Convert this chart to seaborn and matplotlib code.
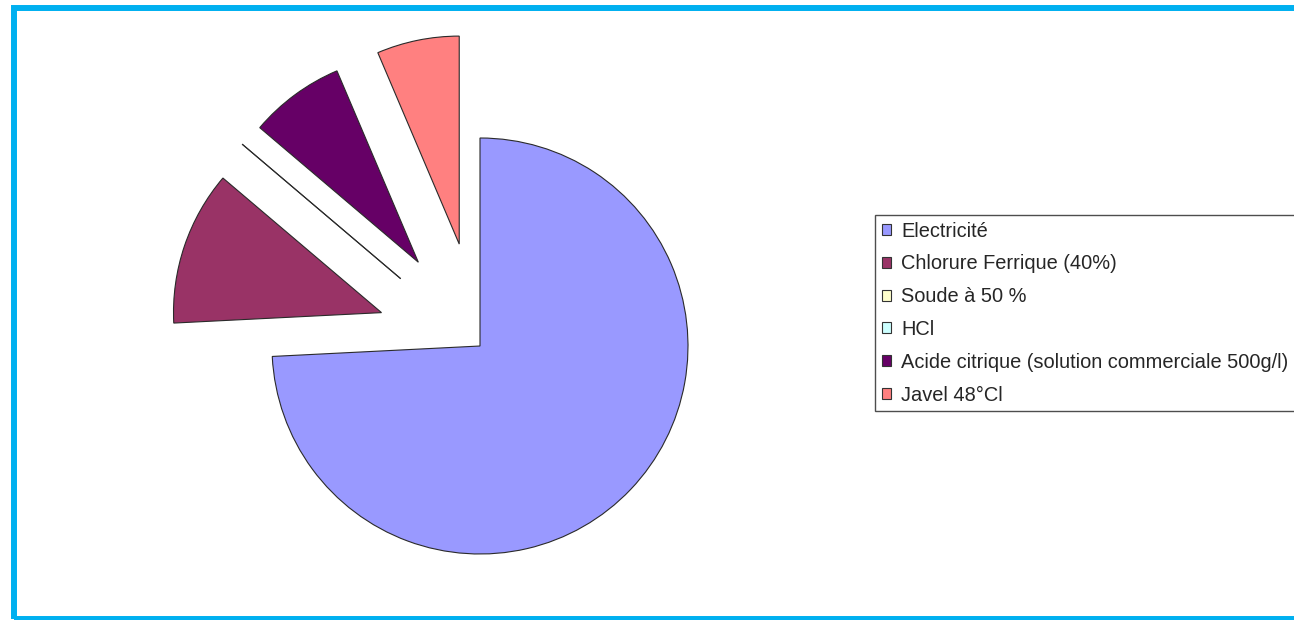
import matplotlib
matplotlib.use("Agg")
import matplotlib.pyplot as plt
import matplotlib.patches as mpatches
import seaborn as sns

# Data (share of each input, %)
labels = [
    "Electricité",
    "Chlorure Ferrique (40%)",
    "Soude à 50 %",
    "HCl",
    "Acide citrique (solution commerciale 500g/l)",
    "Javel 48°Cl",
]
values = [74.2, 12.0, 0.0, 0.0, 7.4, 6.4]
colors = ["#9999FF", "#993366", "#FFFFCC", "#CCFFFF", "#660066", "#FF8080"]
explode = [0, 0.5, 0.5, 0.5, 0.5, 0.5]

sns.set_theme(style="white")
plt.rcParams["font.family"] = ["Liberation Sans", "DejaVu Sans"]

W, H = 1294, 620
fig = plt.figure(figsize=(W / 100, H / 100), dpi=100)
ax = fig.add_axes([0, 0, 1, 1])

# pie centre at (480, 346) px, radius 208 px
cx, cy, r = 480, 346, 208
wedges, _ = ax.pie(
    values,
    colors=colors,
    explode=explode,
    startangle=90,
    counterclock=False,
    wedgeprops=dict(edgecolor="#2a2a2a", linewidth=0.8),
)
ax.set_xlim(-cx / r, (W - cx) / r)
ax.set_ylim(-(H - cy) / r, cy / r)
ax.set_aspect("equal", adjustable="box")
ax.axis("off")

leg = fig.legend(
    wedges,
    labels,
    loc="upper left",
    bbox_to_anchor=(875 / W, 1 - 215 / H),
    frameon=True,
    fancybox=False,
    shadow=False,
    fontsize=14.4,
    handlelength=0.46,
    handleheight=0.46,
    handletextpad=0.52,
    labelspacing=0.69,
    borderpad=0.33,
    borderaxespad=0,
)
leg.get_frame().set_edgecolor("#222222")
leg.get_frame().set_linewidth(1.0)
for h in leg.legend_handles:
    h.set_edgecolor("#333333")
    h.set_linewidth(0.8)

# cyan frame around the picture (right side cut off)
frame = mpatches.Rectangle(
    (13.5 / W, 1.5 / H), 1.1, (H - 9) / H,
    transform=fig.transFigure, fill=False,
    edgecolor="#00B0F0", linewidth=4.3, clip_on=False,
)
fig.patches.append(frame)

fig.savefig("out.png", dpi=100)
